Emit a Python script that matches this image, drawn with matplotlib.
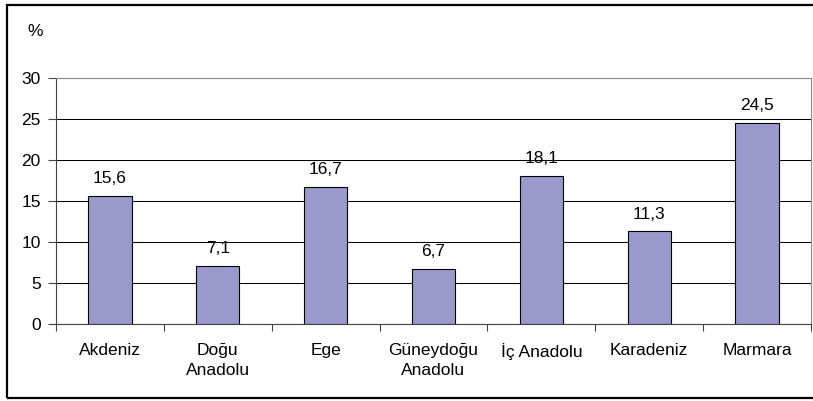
import matplotlib
matplotlib.use("Agg")
import matplotlib.pyplot as plt
from matplotlib.patches import Rectangle
from matplotlib.ticker import FixedLocator, NullFormatter

plt.rcParams['font.family'] = ['Liberation Sans', 'DejaVu Sans']

regions = ["Akdeniz", "Doğu\nAnadolu", "Ege", "Güneydoğu\nAnadolu",
           "İç Anadolu", "Karadeniz", "Marmara"]
shares = [15.6, 7.1, 16.7, 6.7, 18.1, 11.3, 24.5]
yticks = [0, 5, 10, 15, 20, 25, 30]

FS = 12.5
W, H = 813, 401
fig = plt.figure(figsize=(W / 100, H / 100), dpi=100)
fig.patch.set_facecolor("white")

# outer chart frame
fig.patches.append(Rectangle((7 / W, 3 / H), 820 / W, 393 / H,
                             transform=fig.transFigure, fill=False,
                             edgecolor="black", linewidth=1.6))

ax = fig.add_axes([56 / W, (H - 324) / H, 755 / W, 246 / H])
x = list(range(len(regions)))
bars = ax.bar(x, shares, width=0.4, color="#9999CC", edgecolor="black",
              linewidth=0.8, zorder=3)

for xi, v in zip(x, shares):
    ax.annotate(f"{v:.1f}".replace(".", ","), (xi, v), xytext=(0, 7),
                textcoords="offset points", ha="center", va="bottom",
                fontsize=FS)

ax.set_xlim(-0.5, len(regions) - 0.5)
ax.set_ylim(0, 30)
ax.set_yticks(yticks)
ax.set_yticklabels([str(t) for t in yticks], fontsize=FS)
ax.set_xticks(x)
ax.set_xticklabels(regions, fontsize=FS, linespacing=1.35)
ax.tick_params(axis="x", which="major", length=0, pad=14)
ax.xaxis.set_minor_locator(FixedLocator([i - 0.5 for i in range(len(regions) + 1)]))
ax.xaxis.set_minor_formatter(NullFormatter())
ax.tick_params(axis="x", which="minor", length=5, width=0.8, color="#444444", direction="out")
ax.tick_params(axis="y", length=6, width=0.8, color="#444444", pad=5)

ax.yaxis.grid(True, color="black", linewidth=0.75, zorder=0)
ax.set_axisbelow(True)
for side in ("top", "right"):
    ax.spines[side].set_color("#8c8c8c")
    ax.spines[side].set_linewidth(0.8)
for side in ("left", "bottom"):
    ax.spines[side].set_color("#444444")
    ax.spines[side].set_linewidth(0.8)

fig.text(35 / W, 1 - 32 / H, "%", ha="center", va="center", fontsize=FS)

fig.savefig("out.png", dpi=100)
